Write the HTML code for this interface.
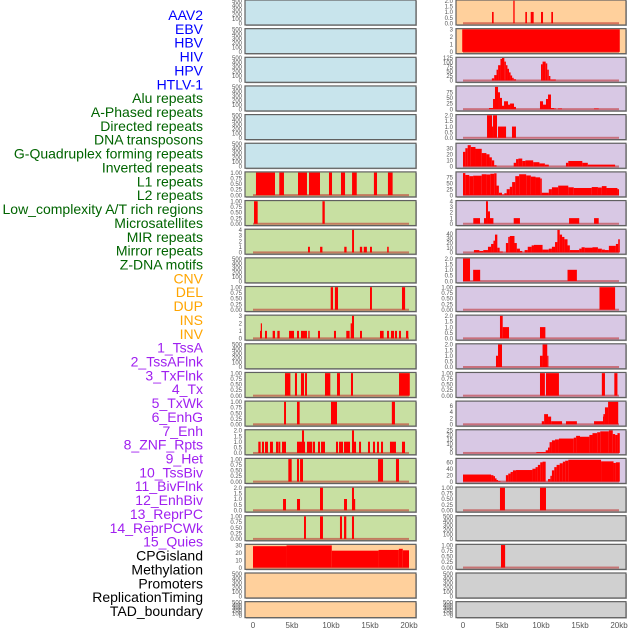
<!DOCTYPE html>
<html><head><meta charset="utf-8"><style>
html,body{margin:0;padding:0;background:#fff;width:630px;height:630px;overflow:hidden}
svg{display:block;font-family:"Liberation Sans",sans-serif}
</style></head><body>
<svg id="chart" width="630" height="630"></svg>
<script>
// ---- labels ----
const labels=["AAV2","EBV","HBV","HIV","HPV","HTLV-1","Alu repeats","A-Phased repeats","Directed repeats","DNA transposons","G-Quadruplex forming repeats","Inverted repeats","L1 repeats","L2 repeats","Low_complexity A/T rich regions","Microsatellites","MIR repeats","Mirror repeats","Z-DNA motifs","CNV","DEL","DUP","INS","INV","1_TssA","2_TssAFlnk","3_TxFlnk","4_Tx","5_TxWk","6_EnhG","7_Enh","8_ZNF_Rpts","9_Het","10_TssBiv","11_BivFlnk","12_EnhBiv","13_ReprPC","14_ReprPCWk","15_Quies","CPGisland","Methylation","Promoters","ReplicationTiming","TAD_boundary"];
const labelGroups=[6,13,5,15,5];
const groupColors=["#0000ff","#006400","#ffa500","#a020f0","#000000"];
// ---- tick label sets ----
const tBlank=["0","100","200","300","400","500"];
const t01=["0.00","0.25","0.50","0.75","1.00"];
const t02=["0.0","0.5","1.0","1.5","2.0"];
const t03=["0","1","2","3"];
const t04=["0","1","2","3","4"];
const t030=["0","10","20","30"];
const xTicks=[0,5,10,15,20];
const xTickLabels=["0","5kb","10kb","15kb","20kb"];
// ---- series data: [startKb, endKb, value] ----
const L06=[[0.38,2.82,1],[3.37,3.97,1],[5.77,6.92,1],[7.18,8.59,1],[9.74,10.13,1],[11.28,11.8,1],[12.7,13.3,1],[15.5,15.9,1],[17.3,17.9,1]];
const L07=[[0.13,0.6,1],[8.9,9.2,1]];
const L08=[[7.05,7.3,1],[8.6,8.9,1],[11.7,12.0,1],[12.7,12.95,4],[13.7,14.0,1],[14.2,14.6,1],[15.0,15.25,1],[17.2,17.4,1]];
const L10=[[9.96,10.26,1],[10.5,10.9,1],[15.0,15.25,1],[19.1,19.5,1]];
const L11=[[0.9,1.0,1],[1.0,1.15,2],[1.54,1.79,1],[2.52,2.82,1],[3.12,3.42,1],[4.62,5.26,1],[5.64,5.9,1],[6.15,6.92,1],[7.09,7.26,1],[8.33,8.59,1],[10.38,10.64,1],[11.96,12.39,1],[12.52,12.69,2],[12.69,12.95,3],[13.72,13.97,1],[16.28,16.75,1],[17.18,17.44,1],[17.69,18.08,1],[18.2,18.46,1],[18.72,18.97,1],[19.62,19.91,1]];
const L13=[[4.1,4.79,1],[5.38,5.64,1],[6.15,6.54,1],[6.67,6.92,1],[9.23,9.91,1],[10.77,11.15,1],[12.56,12.82,1],[18.72,20.1,1]];
const L14=[[3.98,4.23,1],[5.64,5.98,1],[10.0,10.77,1],[17.8,18.2,1]];
const L15=[[0.68,0.98,1],[1.15,1.41,1],[1.54,1.92,1],[2.18,2.56,1],[2.95,3.21,1],[3.25,3.5,1],[3.72,4.23,1],[5.64,6.28,1],[6.28,6.54,2],[6.54,6.67,1],[6.92,7.6,1],[7.69,7.95,1],[8.33,8.59,1],[8.72,9.23,1],[10.64,10.9,1],[11.03,11.54,1],[11.67,12.44,1],[12.69,12.95,2],[12.95,13.21,1],[13.59,13.85,1],[14.74,15.0,1],[15.38,15.64,1],[15.9,16.15,1],[16.41,16.67,1],[17.56,17.82,1],[17.82,18.33,1],[19.1,19.49,1]];
const L16=[[4.53,4.96,1],[5.64,5.9,1],[6.03,6.41,1],[16.03,16.67,1],[18.33,18.72,1]];
const L17=[[3.85,4.23,1],[5.64,6.03,1],[8.59,8.97,2],[11.67,12.05,1],[12.69,12.95,2],[12.95,13.1,1]];
const L18=[[6.54,6.79,1],[8.59,8.97,1],[11.15,11.41,1],[11.67,11.96,1],[12.69,12.95,1]];
const L19=[[0,4.3,28.5],[4.3,10.1,29.5],[10.1,16.1,22.5],[16.1,18.7,23.5],[18.7,19.2,25],[19.2,20,23]];
const R00=[[3.72,3.93,1],[6.45,6.62,2],[7.99,8.2,1],[8.68,9.06,1],[10.0,10.26,1],[11.32,11.54,1]];
const R01=[[-0.1,20.1,3]];
const R02=[[3.7,4.0,12],[4.0,4.3,30],[4.3,4.5,60],[4.5,4.8,85],[4.8,5.0,120],[5.0,5.3,125],[5.3,5.5,105],[5.5,5.7,85],[5.7,5.9,65],[5.9,6.1,45],[6.1,6.3,28],[6.3,6.5,15],[6.5,6.8,7],[10.0,10.2,90],[10.2,10.6,105],[10.6,10.8,95],[10.8,11.0,60],[11.0,11.2,25],[11.2,11.9,6]];
const R03=[[3.33,3.85,5],[3.85,4.1,45],[4.1,4.49,99],[4.49,4.74,75],[4.74,5.0,50],[5.0,5.26,15],[5.26,5.77,35],[5.77,6.03,20],[6.03,6.54,25],[6.54,6.79,10],[9.87,10.26,35],[10.26,10.64,20],[10.64,10.9,45],[10.9,11.28,65],[11.28,11.67,5],[11.67,11.9,3],[12.18,12.69,3],[16.8,17.4,3]];
const R04=[[3.08,3.72,2],[3.72,3.85,1],[3.85,4.36,2],[4.49,5.52,1],[6.28,6.79,1]];
const R05=[[0,0.3,24],[0.3,0.6,30],[0.6,1.0,35],[1.0,1.6,32],[1.6,2.4,29],[2.4,3.0,22],[3.0,3.4,20],[3.4,3.7,15],[3.7,4.0,10],[4.0,4.3,2],[6.5,6.8,6],[6.8,7.1,12],[7.1,7.6,13],[7.6,8.0,9],[8.0,9.0,10],[9.0,9.8,7],[9.8,10.5,5],[10.5,11.0,3],[13.2,13.5,6],[13.5,15.3,9],[15.3,16.0,6],[16.0,19.5,3]];
const R06=[[0,0.3,93],[0.3,0.8,85],[0.8,1.3,80],[1.3,2.4,82],[2.4,3.0,88],[3.0,3.5,87],[3.5,4.0,90],[4.0,4.3,92],[4.3,4.6,40],[4.6,5.0,10],[5.0,5.3,2],[5.3,5.6,8],[5.6,6.0,25],[6.0,6.3,35],[6.3,6.7,55],[6.7,7.2,80],[7.2,8.1,88],[8.1,8.7,83],[8.7,9.3,78],[9.3,9.9,75],[9.9,10.1,70],[10.1,11.0,10],[11.0,11.4,25],[11.4,12.2,33],[12.2,13.5,40],[13.5,14.2,33],[14.2,16.5,30],[16.5,17.3,34],[17.3,17.8,32],[17.8,18.4,38],[18.4,19.8,30],[19.8,20.0,25]];
const R07=[[1.32,2.18,1],[2.69,2.95,1],[2.95,3.2,4],[3.2,3.46,2.2],[3.46,3.9,1],[6.5,7.3,1],[13.6,14.9,1],[16.8,17.4,1]];
const R08=[[1.4,2.1,5],[2.1,2.6,3],[2.6,3.2,5],[3.2,3.6,12],[3.6,3.9,18],[3.9,4.1,25],[4.1,4.4,38],[4.4,4.7,10],[4.7,5.1,2],[5.5,5.8,20],[5.8,6.0,33],[6.0,6.6,35],[6.6,6.9,20],[6.9,7.3,8],[7.3,7.6,3],[7.9,8.3,5],[8.3,8.8,12],[8.8,9.1,15],[9.1,10.2,16],[10.2,11.0,6],[11.0,11.4,8],[11.4,11.8,12],[11.8,12.1,22],[12.1,12.4,48],[12.4,12.7,38],[12.7,13.0,33],[13.0,13.4,28],[13.4,13.7,15],[13.7,14.9,5],[14.9,15.2,8],[15.2,15.6,11],[15.6,16.6,10],[16.6,17.3,11],[17.3,17.8,8],[17.8,18.2,6],[18.2,18.7,5],[18.7,19.6,14],[19.6,19.9,18],[19.9,20.1,28]];
const R09=[[0,0.9,2],[1.3,2.2,1],[13.4,14.6,1]];
const R10=[[17.5,19.5,1]];
const R11=[[4.74,5.09,2],[5.09,5.9,1],[9.87,10.56,1]];
const R12=[[4.23,4.49,1],[4.49,5.0,2],[9.87,10.2,1],[10.2,10.8,2],[10.8,10.95,1]];
const R13=[[9.87,10.5,1],[10.64,12.3,1],[17.8,18.2,1],[19.4,19.8,1]];
const R14=[[10.1,10.4,1],[10.4,10.9,3.3],[10.9,11.3,2.5],[11.3,12.7,1],[13.2,14.6,1],[16.8,17.95,1],[17.95,18.0,2.5],[18.0,18.2,3.3],[18.2,18.6,5.5],[18.6,19.9,7.3]];
const R15=[[9.4,10.6,1],[10.6,10.9,3],[10.9,11.1,6],[11.1,11.4,12],[11.4,11.8,14],[11.8,12.3,15],[12.3,14.2,16],[14.2,14.5,17],[14.5,15.0,19],[15.0,16.2,18],[16.2,16.6,20],[16.6,17.2,22],[17.2,17.6,23],[17.6,18.7,24],[18.7,19.2,25],[19.2,19.5,21],[19.5,19.8,20],[19.8,20.1,22]];
const R16=[[0,3.6,22],[3.6,3.9,20],[3.9,4.1,17],[4.1,4.3,10],[4.3,4.5,5],[4.5,4.8,2],[5.5,5.8,20],[5.8,6.1,25],[6.1,6.4,30],[6.4,6.8,35],[6.8,8.9,36],[8.9,9.3,40],[9.3,9.6,45],[9.6,9.9,52],[9.9,10.2,60],[10.2,10.6,62],[10.9,11.2,8],[11.2,11.4,18],[11.4,11.7,35],[11.7,12.0,45],[12.0,12.4,52],[12.4,12.8,57],[12.8,13.1,62],[13.1,13.5,65],[13.5,17.7,68],[17.7,19.3,63],[19.3,19.6,58],[19.6,20.1,60]];
const R17=[[4.74,5.38,1],[9.87,10.64,1]];
const R19=[[4.87,5.4,1]];

const BLUE="#c8e4ec",GREEN="#c8e0a2",ORANGE="#ffd09c",PURPLE="#d8c8e4",GRAY="#d0d0d0";
// [col,row,bg,ticks,tickMax,ymax,data]
const panels=[];
for(let i=0;i<6;i++)panels.push([0,i,BLUE,tBlank,500,500,null]);
panels.push([0,6,GREEN,t01,1,1,L06],[0,7,GREEN,t01,1,1,L07],[0,8,GREEN,t04,4,4,L08],[0,9,GREEN,tBlank,500,500,null],
[0,10,GREEN,t01,1,1,L10],[0,11,GREEN,t03,3,3,L11],[0,12,GREEN,tBlank,500,500,null],[0,13,GREEN,t01,1,1,L13],
[0,14,GREEN,t01,1,1,L14],[0,15,GREEN,t02,2,2,L15],[0,16,GREEN,t01,1,1,L16],[0,17,GREEN,t02,2,2,L17],[0,18,GREEN,t01,1,1,L18],
[0,19,ORANGE,t030,30,30,L19],[0,20,ORANGE,tBlank,500,500,null],[0,21,ORANGE,tBlank,500,500,null],
[1,0,ORANGE,t02,2,2,R00],[1,1,ORANGE,t03,3,3,R01],[1,2,PURPLE,["0","25","50","75","100","125"],125,125,R02],
[1,3,PURPLE,["0","25","50","75"],75,100,R03],[1,4,PURPLE,t02,2,2,R04],[1,5,PURPLE,["0","10","20","30"],30,37,R05],
[1,6,PURPLE,["0","25","50","75"],75,95,R06],[1,7,PURPLE,t04,4,4,R07],[1,8,PURPLE,["0","10","20","30","40"],40,48,R08],
[1,9,PURPLE,t02,2,2,R09],[1,10,PURPLE,t01,1,1,R10],[1,11,PURPLE,t02,2,2,R11],[1,12,PURPLE,t02,2,2,R12],
[1,13,PURPLE,t01,1,1,R13],[1,14,PURPLE,["0","2","4","6"],6,7.3,R14],[1,15,PURPLE,["0","5","10","15","20","25"],25,25,R15],
[1,16,PURPLE,["0","20","40","60"],60,70,R16],[1,17,GRAY,t01,1,1,R17],[1,18,GRAY,tBlank,500,500,null],
[1,19,GRAY,t01,1,1,R19],[1,20,GRAY,tBlank,500,500,null],[1,21,GRAY,tBlank,500,500,null]);

const NS="http://www.w3.org/2000/svg";
const svg=document.getElementById('chart');
function mk(tag,attrs,parent){const e=document.createElementNS(NS,tag);for(const k in attrs)e.setAttribute(k,attrs[k]);(parent||svg).appendChild(e);return e;}

// labels
let li=0;
labelGroups.forEach((n,g)=>{for(let k=0;k<n;k++){const i=li++;
 const t=mk('text',{x:203,y:15+i*13.86+5,'text-anchor':'end','font-size':14,fill:groupColors[g]});
 t.textContent=labels[i];
 
 
}});

const colX=[[245,416,253],[456,626,463]];
function xScale(col,kb){return colX[col][2]+kb*7.8;}
panels.forEach(p=>{
 const [col,row,bg,ticks,tmax,ymax,data]=p;
 const top=row*28.65, h=row===21?16:25;
 const x0=colX[col][0],x1=colX[col][1];
 const g=mk('g',{});
 
 
 mk('rect',{x:x0+1,y:top+1,width:x1-x0,height:h,fill:'#b8b8b8'},g);
 mk('rect',{x:x0,y:top,width:x1-x0,height:h,fill:bg,stroke:'#606060','stroke-width':1.2},g);
 const base=top+h-1.8, span=h-2.5;
 const yS=v=>base-v/ymax*span;
 if(data){
  mk('rect',{x:xScale(col,0),y:base-1,width:20*7.8,height:2,fill:'rgba(190,40,40,0.55)'},g);
  data.forEach(d=>{
   const r=mk('rect',{x:xScale(col,d[0]),y:yS(d[2]),width:Math.max(1,(d[1]-d[0])*7.8),height:base-yS(d[2]),fill:'#ff0000'},g);
   
   
  });
 }
 ticks.forEach((tl,i)=>{
  const v=tmax*i/(ticks.length-1);
  const t=mk('text',{x:x0-3,y:yS(v)+2.2,'text-anchor':'end','font-size':6,fill:'#555'},g);
  t.textContent=tl;
  
  
 });
});
// x axes
[0,1].forEach(col=>{xTicks.forEach((kb,i)=>{
 const t=mk('text',{x:xScale(col,kb),y:628,'text-anchor':'middle','font-size':8,fill:'#555'});
 t.textContent=xTickLabels[i];
 
 
});});
</script>
</body></html>
